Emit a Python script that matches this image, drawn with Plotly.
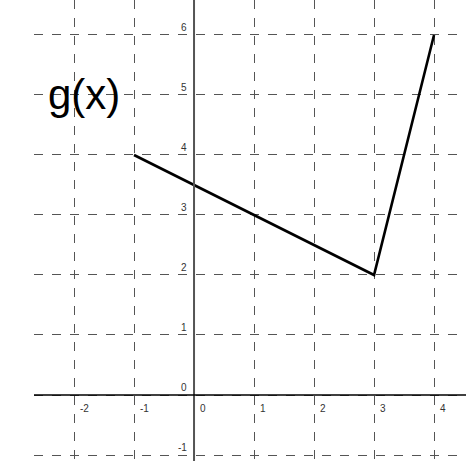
import plotly.graph_objects as go

# data
x_vals = [-1, 3, 4]
y_vals = [4, 2, 6]
x_ticks = [-2, -1, 0, 1, 2, 3, 4]
y_ticks = [-1, 0, 1, 2, 3, 4, 5, 6]
label_text = "g(x)"

fig = go.Figure()
fig.add_trace(go.Scatter(x=x_vals, y=y_vals, mode="lines",
                         line=dict(color="black", width=2.6), hoverinfo="skip"))

annotations = []
for t in x_ticks:
    annotations.append(dict(x=t, y=0, xref="x", yref="y", text=str(t), showarrow=False,
                            xanchor="left", yanchor="top", xshift=4, yshift=-6,
                            font=dict(family="Arial", size=10, color="#333")))
for t in y_ticks:
    annotations.append(dict(x=0, y=t, xref="x", yref="y", text=str(t), showarrow=False,
                            xanchor="right", yanchor="bottom", xshift=-5, yshift=0,
                            font=dict(family="Arial", size=10, color="#333")))
annotations.append(dict(x=-1.83, y=5.0, xref="x", yref="y", text=label_text, showarrow=False,
                        xanchor="center", yanchor="middle",
                        font=dict(family="Arial", size=42, color="black")))

grid = dict(showgrid=True, gridcolor="#555", griddash="dash", gridwidth=1,
            showticklabels=False, ticks="", showline=False, zeroline=False)

fig.update_layout(
    width=466, height=461,
    margin=dict(l=34, r=0, t=0, b=0),
    paper_bgcolor="white", plot_bgcolor="white",
    showlegend=False,
    xaxis=dict(range=[-2.667, 4.533], tickvals=x_ticks, **grid),
    yaxis=dict(range=[-1.1, 6.583], tickvals=y_ticks, **grid),
    annotations=annotations,
    shapes=[
        dict(type="line", xref="x", yref="paper", x0=0, x1=0, y0=0, y1=1,
             line=dict(color="#555", width=2)),
        dict(type="line", xref="paper", yref="y", x0=0, x1=1, y0=0, y1=0,
             line=dict(color="black", width=1.5)),
    ],
)

fig.write_html("out.html", config={"displayModeBar": False},
               post_script="document.body.style.margin='0';")
